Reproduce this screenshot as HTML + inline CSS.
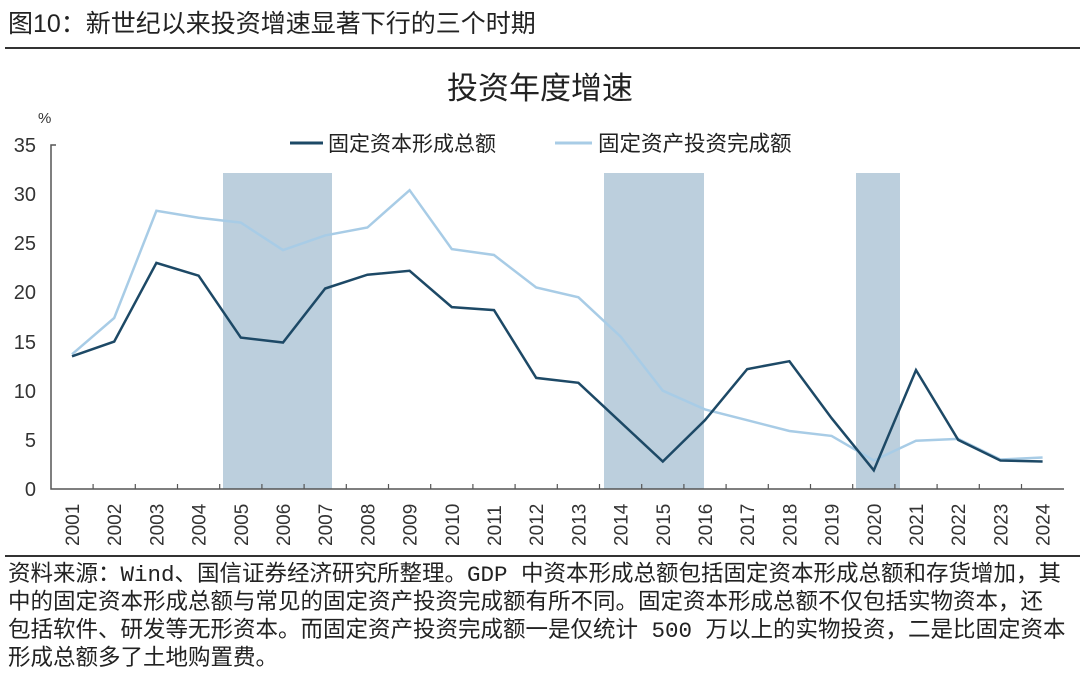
<!DOCTYPE html>
<html><head><meta charset="utf-8"><style>
body{margin:0;background:#fff;width:1080px;height:678px;overflow:hidden;font-family:"Liberation Sans","Noto Sans CJK SC",sans-serif;color:#222}
.h{position:absolute;left:8px;top:4px;font-size:25px;white-space:nowrap}
.f{position:absolute;left:8px;top:561px;font-size:22.5px;line-height:28px;width:1075px;white-space:nowrap;font-family:"Liberation Mono","Noto Sans CJK SC",monospace}
</style></head><body>
<div class="h">图10：新世纪以来投资增速显著下行的三个时期</div>
<div style="position:absolute;left:5px;top:47px;width:1075px;height:2px;background:#333"></div>
<svg width="1080" height="678" style="position:absolute;left:0;top:0" font-family="Liberation Sans, Noto Sans CJK SC, sans-serif">
<text x="540" y="99" font-size="31" text-anchor="middle" fill="#222">投资年度增速</text>
<text x="38" y="123" font-size="15" fill="#333">%</text>
<line x1="290" y1="143" x2="323" y2="143" stroke="#1d4966" stroke-width="3"/>
<text x="328" y="151" font-size="21" fill="#222">固定资本形成总额</text>
<line x1="555" y1="143" x2="592" y2="143" stroke="#a8cce6" stroke-width="3"/>
<text x="598" y="151" font-size="21.5" fill="#222">固定资产投资完成额</text>
<rect x="223" y="173" width="109" height="316" fill="#bccfdd"/>
<rect x="604" y="173" width="100" height="316" fill="#bccfdd"/>
<rect x="856" y="173" width="44" height="316" fill="#bccfdd"/>
<g font-size="20" fill="#333" text-anchor="end">
<text x="36" y="496">0</text><text x="36" y="447">5</text><text x="36" y="398">10</text><text x="36" y="349">15</text><text x="36" y="299">20</text><text x="36" y="250">25</text><text x="36" y="201">30</text><text x="36" y="152">35</text>
</g>
<path d="M56 145H51V489H1064" fill="none" stroke="#555" stroke-width="1.5"/>
<g id="ticks" stroke="#555" stroke-width="1.2"></g>
<g id="yl" font-size="19" fill="#333"></g>
<polyline id="l2" fill="none" stroke="#a8cce6" stroke-width="2.5"/>
<polyline id="l1" fill="none" stroke="#1d4966" stroke-width="2.5"/>
</svg>
<div style="position:absolute;left:5px;top:555px;width:1075px;height:2px;background:#333"></div>
<div class="f">资料来源：Wind、国信证券经济研究所整理。GDP 中资本形成总额包括固定资本形成总额和存货增加，其<br>中的固定资本形成总额与常见的固定资产投资完成额有所不同。固定资本形成总额不仅包括实物资本，还<br>包括软件、研发等无形资本。而固定资产投资完成额一是仅统计 500 万以上的实物投资，二是比固定资本<br>形成总额多了土地购置费。</div>
<script>
var d1=[13.5,15,23,21.7,15.4,14.9,20.4,21.8,22.2,18.5,18.2,11.3,10.8,6.8,2.8,7.0,12.2,13.0,7.2,1.9,12.1,5.0,2.9,2.8];
var d2=[13.7,17.4,28.3,27.6,27.1,24.3,25.8,26.6,30.4,24.4,23.8,20.5,19.5,15.5,10.0,8.1,7.0,5.9,5.4,2.9,4.9,5.1,3.0,3.2];
var X=function(i){return 72+i*42.2},Y=function(v){return 489-v*9.83};
function pts(d){return d.map(function(v,i){return X(i).toFixed(1)+","+Y(v).toFixed(1)}).join(" ")}
document.getElementById("l1").setAttribute("points",pts(d1));
document.getElementById("l2").setAttribute("points",pts(d2));
var ns="http://www.w3.org/2000/svg",t=document.getElementById("ticks"),yl=document.getElementById("yl");
for(var i=0;i<24;i++){var x=X(i)+21.1;if(i<23){var l=document.createElementNS(ns,"line");l.setAttribute("x1",x);l.setAttribute("x2",x);l.setAttribute("y1",484);l.setAttribute("y2",489);t.appendChild(l);}
var tx=document.createElementNS(ns,"text");tx.setAttribute("transform","translate("+(X(i)+7)+",546) rotate(-90)");tx.textContent=2001+i;yl.appendChild(tx);}
</script>
</body></html>
